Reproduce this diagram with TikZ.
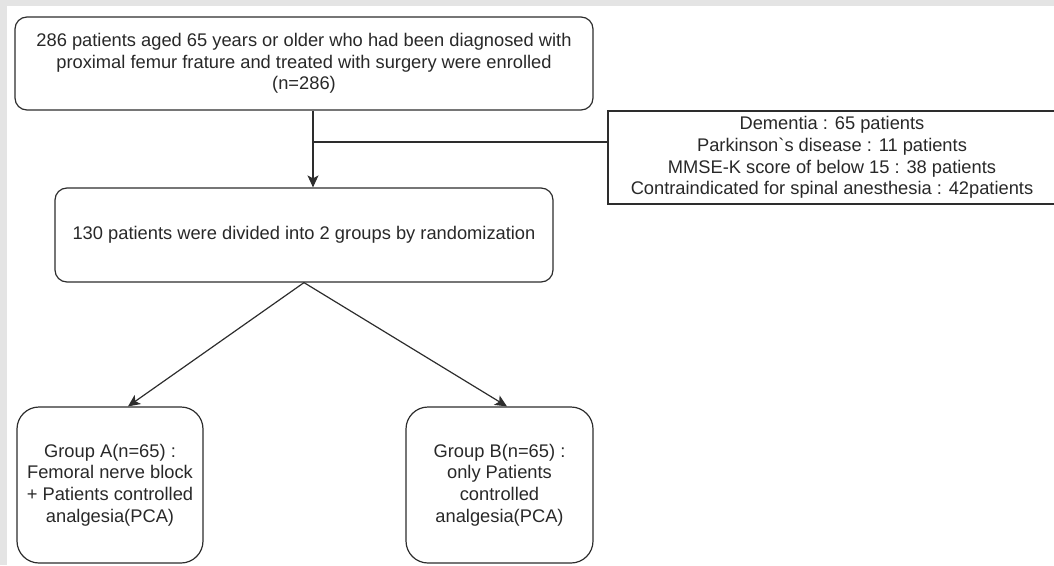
\documentclass[tikz,border=0pt]{standalone}
\usepackage{fontspec}
\setmainfont{Liberation Sans}[Ligatures=TeXOff]
\usetikzlibrary{arrows.meta}
\definecolor{strokegray}{RGB}{45,45,45}
\definecolor{textgray}{RGB}{40,40,40}
\definecolor{framegray}{RGB}{228,228,228}

\begin{document}
\begin{tikzpicture}[x=1pt,y=-1pt,font=\fontsize{18.3}{21.7}\selectfont,
  flowbox/.style={draw=strokegray,line width=1.2pt,rounded corners=12pt,align=center,text=textgray,inner sep=0pt},
  groupbox/.style={flowbox,rounded corners=22pt,minimum width=186pt,minimum height=156pt},
  excludebox/.style={draw=strokegray,line width=1.2pt,align=center,text=textgray,inner sep=0pt},
  link/.style={draw=strokegray,line width=1.2pt},
  arrowlink/.style={link,-{Stealth[length=12pt,width=11pt,inset=3pt]}}]

% Frame of the figure
\clip (0,0) rectangle (1054,565);
\fill[framegray] (0,0) rectangle (1054,6);
\fill[framegray] (0,0) rectangle (7,565);

% === Enrolment ===
\node[flowbox,minimum width=578pt,minimum height=93pt] (enrol) at (304,63.5)
  {286 patients aged 65 years or older who had been diagnosed with\\
   proximal femur frature and treated with surgery were enrolled\\
   (n=286)};

% === Excluded patients ===
\node[excludebox,minimum width=448pt,minimum height=93pt] (excl) at (832,157.5)
  {Dementia : 65 patients\\
   Parkinson`s disease : 11 patients\\
   MMSE-K score of below 15 : 38 patients\\
   Contraindicated for spinal anesthesia : 42patients};

% === Randomization ===
\node[flowbox,minimum width=498pt,minimum height=94pt] (rand) at (304,235)
  {130 patients were divided into 2 groups by randomization};

% === Groups ===
\node[groupbox] (grpA) at (110,485)
  {Group A(n=65) :\\ Femoral nerve block\\ + Patients controlled\\ analgesia(PCA)};
\node[groupbox,minimum width=187pt] (grpB) at (499.5,485)
  {Group B(n=65) :\\ only Patients\\ controlled\\ analgesia(PCA)};

% Connectors
\coordinate (split) at (313,142);
\draw[arrowlink] (enrol.south -| split) -- (rand.north -| split);
\draw[link] (split) -- (split -| excl.west);
\draw[arrowlink] (rand.south) -- ([xshift=18pt]grpA.north);
\draw[arrowlink] (rand.south) -- ([xshift=7.5pt]grpB.north);

\end{tikzpicture}
\end{document}
